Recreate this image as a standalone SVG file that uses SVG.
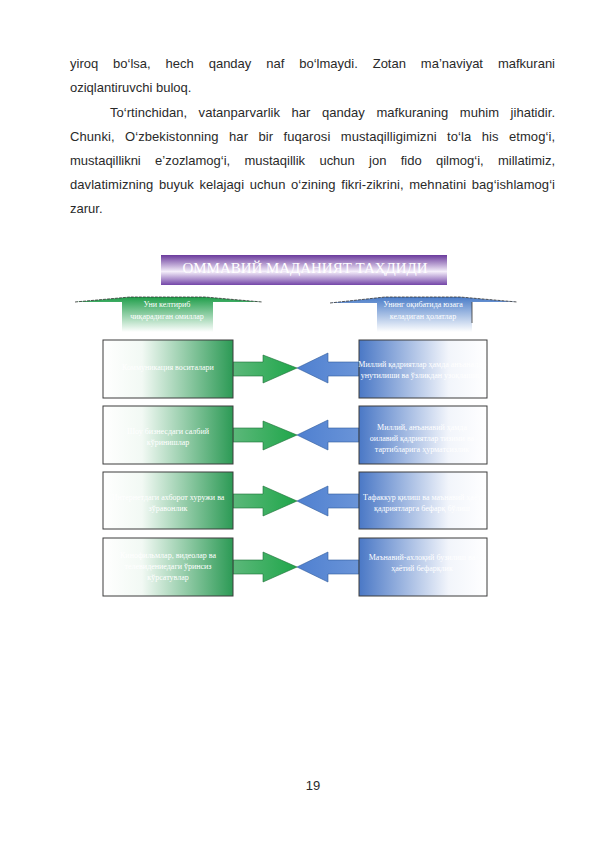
<svg xmlns="http://www.w3.org/2000/svg" width="595" height="842" viewBox="0 0 595 842">
<defs>
<linearGradient id="gPurple" x1="0" y1="0" x2="0" y2="1">
<stop offset="0" stop-color="#6a3a9c"/><stop offset="0.55" stop-color="#f4eefa"/><stop offset="1" stop-color="#7446a8"/>
</linearGradient>
<linearGradient id="gGreenV" x1="0" y1="0" x2="0" y2="1">
<stop offset="0" stop-color="#1f9e4a"/><stop offset="1" stop-color="#ffffff"/>
</linearGradient>
<linearGradient id="gBlueV" x1="0" y1="0" x2="0" y2="1">
<stop offset="0" stop-color="#4a7cc8"/><stop offset="1" stop-color="#ffffff"/>
</linearGradient>
<linearGradient id="gGreenH" x1="0" y1="0" x2="1" y2="0">
<stop offset="0" stop-color="#ffffff"/><stop offset="0.3" stop-color="#f2f9f4"/><stop offset="1" stop-color="#2c9a55"/>
</linearGradient>
<linearGradient id="gBlueH" x1="0" y1="0" x2="1" y2="0">
<stop offset="0" stop-color="#4a78c6"/><stop offset="0.7" stop-color="#f2f5fb"/><stop offset="1" stop-color="#ffffff"/>
</linearGradient>
<linearGradient id="gArrG" x1="0" y1="0" x2="1" y2="0">
<stop offset="0" stop-color="#5cb87a"/><stop offset="1" stop-color="#1fa64a"/>
</linearGradient>
<linearGradient id="gArrB" x1="0" y1="0" x2="1" y2="0">
<stop offset="0" stop-color="#4f80d0"/><stop offset="1" stop-color="#6a94d8"/>
</linearGradient>
</defs>
<style>
.p{font-family:"Liberation Sans",Arial,sans-serif;font-size:13px;fill:#2a2a2a}
.w{font-family:"Liberation Serif","Times New Roman",serif;font-size:8px;fill:#ffffff;text-anchor:middle}
.t{font-family:"Liberation Serif","Times New Roman",serif;font-size:15px;fill:#ffffff;text-anchor:middle}
.bx{stroke:#3c3c3c;stroke-width:1}
.ga{fill:url(#gArrG);stroke:#1d6e36;stroke-width:0.6}
.ba{fill:url(#gArrB);stroke:#2f5a9a;stroke-width:0.6}
.roof{stroke:#333;stroke-width:0.8;fill:none;stroke-dasharray:3 1}
</style>
<rect width="595" height="842" fill="#ffffff"/>
<g id="body-text">
<text class="p" x="70" y="68" word-spacing="11.3" textLength="485" lengthAdjust="spacing">yiroq bo‘lsa, hech qanday naf bo‘lmaydi. Zotan ma’naviyat mafkurani</text>
<text class="p" x="70" y="92">oziqlantiruvchi buloq.</text>
<text class="p" x="110" y="117" word-spacing="7.9" textLength="445" lengthAdjust="spacing">To‘rtinchidan, vatanparvarlik har qanday mafkuraning muhim jihatidir.</text>
<text class="p" x="70" y="141" word-spacing="6.7" textLength="485" lengthAdjust="spacing">Chunki, O‘zbekistonning har bir fuqarosi mustaqilligimizni to‘la his etmog‘i,</text>
<text class="p" x="70" y="165" word-spacing="10.7" textLength="485" lengthAdjust="spacing">mustaqillikni e’zozlamog‘i, mustaqillik uchun jon fido qilmog‘i, millatimiz,</text>
<text class="p" x="70" y="189" word-spacing="1.9" textLength="485" lengthAdjust="spacing">davlatimizning buyuk kelajagi uchun o‘zining fikri-zikrini, mehnatini bag‘ishlamog‘i</text>
<text class="p" x="70" y="213">zarur.</text>
</g>
<g id="title">
<rect x="161" y="255" width="286" height="30" fill="url(#gPurple)"/>
<text class="t" x="305" y="273" textLength="245" lengthAdjust="spacingAndGlyphs">ОММАВИЙ МАДАНИЯТ ТАҲДИДИ</text>
</g>
<g id="header-left">
<path d="M75,302 L130,297 L205,297 L262,302 L213,302 L213,332 L122,332 L122,302 Z" fill="url(#gGreenV)"/>
<path class="roof" d="M75,302 L130,297 L205,297 L262,302"/>
<text class="w" x="167" y="307">Уни келтириб</text>
<text class="w" x="167" y="319">чиқарадиган омиллар</text>
</g>
<g id="header-right">
<path d="M330,303 L385,297 L460,297 L517,302 L472,302 L472,332 L377,332 L377,303 Z" fill="url(#gBlueV)"/>
<path class="roof" d="M330,303 L385,297 L460,297 L517,302"/>
<path d="M472,302 L472,323" stroke="#333" stroke-width="0.8"/>
<text class="w" x="423" y="307">Унинг оқибатида юзага</text>
<text class="w" x="423" y="319">келадиган ҳолатлар</text>
</g>
<g id="connectors">
<path class="ga" d="M233,362 L263,362 L263,355 L297,368 L263,383 L263,376 L233,376 Z"/>
<path class="ga" d="M233,428 L263,428 L263,421 L297,435 L263,450 L263,442 L233,442 Z"/>
<path class="ga" d="M233,494 L263,494 L263,486 L297,501 L263,516 L263,508 L233,508 Z"/>
<path class="ga" d="M233,560 L263,560 L263,552 L297,567 L263,582 L263,574 L233,574 Z"/>
<path class="ba" d="M359,362 L328,362 L328,353 L297,368 L328,383 L328,376 L359,376 Z"/>
<path class="ba" d="M359,428 L328,428 L328,420 L297,435 L328,450 L328,442 L359,442 Z"/>
<path class="ba" d="M359,494 L328,494 L328,486 L297,501 L328,516 L328,508 L359,508 Z"/>
<path class="ba" d="M359,560 L328,560 L328,552 L297,567 L328,582 L328,574 L359,574 Z"/>
</g>
<g id="left-1">
<rect class="bx" x="103" y="340" width="130" height="58" fill="url(#gGreenH)"/>
<text class="w" x="168" y="370">Коммуникация воситалари</text>
</g>
<g id="left-2">
<rect class="bx" x="103" y="406" width="130" height="58" fill="url(#gGreenH)"/>
<text class="w" x="168" y="434">Шоу бизнесдаги салбий</text>
<text class="w" x="168" y="445">кўринишлар</text>
</g>
<g id="left-3">
<rect class="bx" x="103" y="472" width="130" height="57" fill="url(#gGreenH)"/>
<text class="w" x="168" y="500">Интернетдаги ахборот хуружи ва</text>
<text class="w" x="168" y="511">зўравонлик</text>
</g>
<g id="left-4">
<rect class="bx" x="103" y="538" width="130" height="58" fill="url(#gGreenH)"/>
<text class="w" x="168" y="558">Кинофильмлар, видеолар ва</text>
<text class="w" x="168" y="569">телевидениедаги ўринсиз</text>
<text class="w" x="168" y="580">кўрсатувлар</text>
</g>
<g id="right-1">
<rect class="bx" x="359" y="340" width="128" height="58" fill="url(#gBlueH)"/>
<text class="w" x="422" y="367">Миллий қадриятлар ҳамда анъаналар</text>
<text class="w" x="422" y="378">унутилиши ва ўзликдан узоқлашиш</text>
</g>
<g id="right-2">
<rect class="bx" x="359" y="406" width="128" height="58" fill="url(#gBlueH)"/>
<text class="w" x="422" y="430">Миллий, анъанавий ҳамда</text>
<text class="w" x="422" y="441">оилавий қадриятлар тизими ва</text>
<text class="w" x="422" y="452">тартибларига ҳурматсизлик</text>
</g>
<g id="right-3">
<rect class="bx" x="359" y="472" width="128" height="57" fill="url(#gBlueH)"/>
<text class="w" x="422" y="500">Тафаккур қилиш ва маънавий ҳаёт</text>
<text class="w" x="422" y="511">қадриятларга бефарқ бўлиш</text>
</g>
<g id="right-4">
<rect class="bx" x="359" y="538" width="128" height="58" fill="url(#gBlueH)"/>
<text class="w" x="422" y="560">Маънавий-ахлоқий бузилиш ва</text>
<text class="w" x="422" y="571">ҳаётий бефарқлик</text>
</g>
<g id="page-number">
<text class="p" x="313" y="790" text-anchor="middle" font-size="12">19</text>
</g>
</svg>
